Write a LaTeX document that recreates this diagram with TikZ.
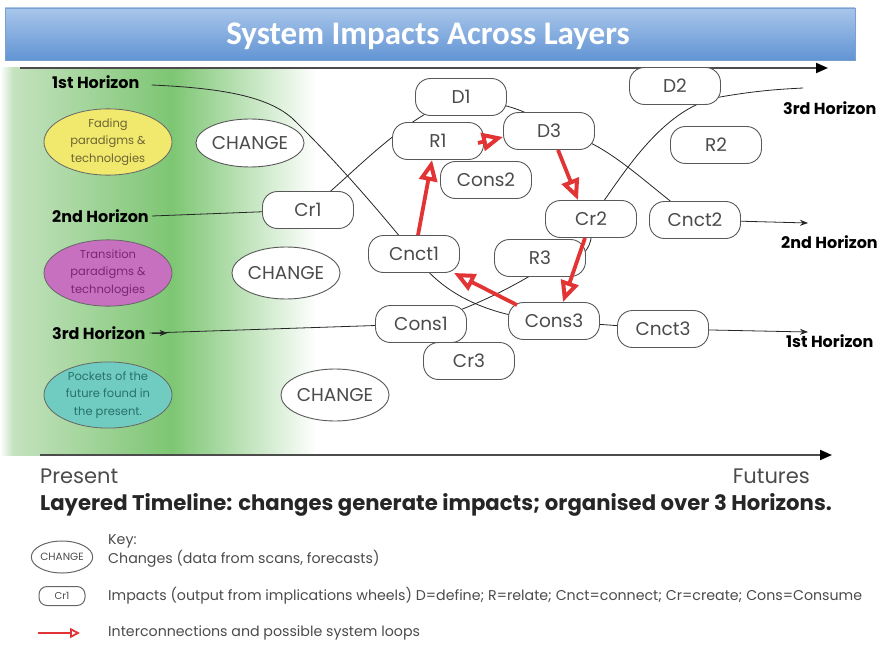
\documentclass[tikz,border=0pt]{standalone}
\usepackage{fontspec}
\setmainfont{Poppins}
\newfontfamily\titlefont{Carlito}
\usetikzlibrary{arrows.meta,shapes.geometric}
\definecolor{grnA}{RGB}{196,226,190}
\definecolor{grnB}{RGB}{125,198,115}
\definecolor{tbTop}{RGB}{168,198,234}
\definecolor{tbBot}{RGB}{98,148,212}
\definecolor{tbEdge}{RGB}{120,160,210}
\definecolor{redarr}{RGB}{226,52,52}
\definecolor{ylw}{RGB}{240,233,110}
\definecolor{mag}{RGB}{200,112,192}
\definecolor{tea}{RGB}{112,204,192}
\definecolor{txtg}{RGB}{75,75,75}
\pgfdeclarehorizontalshading{greenfade}{100bp}{color(0bp)=(white); color(25bp)=(white); color(27bp)=(grnA); color(51bp)=(grnB); color(73bp)=(white); color(75bp)=(white); color(100bp)=(white)}
\begin{document}
\begin{tikzpicture}[x=1pt,y=-1pt,
  box/.style={draw=black!65, fill=white, rounded corners=15pt, minimum width=91pt, minimum height=37pt, inner sep=0pt, font=\fontsize{18.5}{20}\selectfont, text=txtg, line width=0.9pt},
  chg/.style={ellipse, draw=black!65, fill=white, minimum width=100pt, minimum height=48pt, inner sep=0pt, font=\fontsize{18.5}{20}\selectfont, text=txtg, line width=0.9pt},
  para/.style={ellipse, draw=black!60, minimum width=128pt, minimum height=60pt, inner sep=0pt, align=center, font=\fontsize{11.5}{17.5}\selectfont, line width=0.8pt},
  hz/.style={font=\bfseries\fontsize{16}{18}\selectfont, inner sep=0pt},
  hline/.style={draw=black!85, line width=0.8pt},
  rarr/.style={draw=redarr, line width=3.8pt, -{Triangle[open, length=21pt, width=18pt, line width=4pt]}},
  axis/.style={draw=black!70, line width=2pt, -{Triangle[length=12pt, width=10pt, black]}},
  keytxt/.style={anchor=west, inner sep=0pt, text=txtg, font=\fontsize{14.2}{16}\selectfont}
]
\useasboundingbox (0,0) rectangle (882,647);
% green band
\shade[shading=greenfade] (0,68) rectangle (330,455);
% title bar
\shade[top color=tbTop, bottom color=tbBot, draw=tbEdge] (5,8) rectangle (855,60);
\node[text=white, font=\titlefont\bfseries\fontsize{33}{36}\selectfont, inner sep=0pt] (title) at (428,36) {System Impacts Across Layers};
% axes
\coordinate (axTs) at (20,68);
\coordinate (axTe) at (828,68);
\coordinate (axBs) at (40,455);
\coordinate (axBe) at (832,455);
\draw[axis] (axTs) -- (axTe);
\draw[axis] (axBs) -- (axBe);

% horizon labels left
\node[hz, anchor=west] (h1) at (52,82) {1st Horizon};
\node[hz, anchor=west] (h2) at (52,216) {2nd Horizon};
\node[hz, anchor=west] (h3) at (52,333) {3rd Horizon};
% horizon labels right
\node[hz, anchor=west] (h3R) at (783,108) {3rd Horizon};
\node[hz, anchor=west] (h2R) at (781,242) {2nd Horizon};
\node[hz, anchor=west] (h1R) at (786,341) {1st Horizon};

% paradigm ellipses
\node[para, fill=ylw, text={rgb,255:red,110;green,100;blue,50}] (fade) at (108,142) {Fading\\paradigms \&\\technologies};
\node[para, fill=mag, text={rgb,255:red,120;green,40;blue,112}, minimum height=62pt] (trans) at (108,273) {Transition\\paradigms \&\\technologies};
\node[para, fill=tea, text={rgb,255:red,40;green,112;blue,104}, minimum height=62pt] (pock) at (108,395) {Pockets of the\\future found in\\the present.};

% change ellipses
\node[chg] (c1) at (250,143) {CHANGE};
\node[chg, minimum width=106pt, minimum height=52pt] (c2) at (286,273) {CHANGE};
\node[chg, minimum width=106pt, minimum height=52pt] (c3) at (335,395) {CHANGE};

% coordinates for line ends
\coordinate (e3) at (803,88);
\coordinate (e2) at (808,223);
\coordinate (e1) at (808,332);

% box positions
\path
  (308,210) coordinate (pcr1)
  (461,97) coordinate (pd1)
  (438,141) coordinate (pr1)
  (549,131) coordinate (pd3)
  (486,180) coordinate (pcons2)
  (675,86) coordinate (pd2)
  (716,145) coordinate (pr2)
  (591,219) coordinate (pcr2)
  (695,220) coordinate (pcnct2)
  (414,254) coordinate (pcnct1)
  (540,258) coordinate (pr3)
  (421,324) coordinate (pcons1)
  (554,321) coordinate (pcons3)
  (469,361) coordinate (pcr3)
  (663,329) coordinate (pcnct3);

% horizon curves (behind boxes)
% 1st horizon
\draw[hline] ([xshift=12pt,yshift=-3pt]h1.east) .. controls (220,88) and (268,96) .. (293,119)
  .. controls (330,155) and (372,202) .. (pcnct1)
  .. controls (445,300) and (500,318) .. (pcons3) -- (pcnct3);
\draw[hline, -{Stealth[length=8pt,width=6pt]}] (pcnct3) -- (e1);
% 2nd horizon
\draw[hline] ([xshift=3pt]h2.east) -- (pcr1) .. controls (350,178) and (400,118) .. (pd1)
  .. controls (500,103) and (535,110) .. (pd3) .. controls (600,134) and (640,180) .. (pcnct2);
\draw[hline, -{Stealth[length=8pt,width=6pt]}] (pcnct2) -- (e2);
% 3rd horizon
\draw[hline] ([xshift=4pt]h3.east) -- (pcons1) .. controls (480,305) and (515,285) .. (540,270)
  .. controls (578,262) and (596,255) .. (pcr2) .. controls (620,180) and (660,108) .. (720,97)
  .. controls (760,90) and (785,89) .. (e3);
\draw[hline, -{Stealth[length=8pt,width=6pt]}] ([xshift=6pt]h3.east) -- ([xshift=22pt]h3.east);

% boxes
\node[box] (cr1) at (pcr1) {Cr1};
\node[box] (d1) at (pd1) {D1};
\node[box] (cons2) at (pcons2) {Cons2};
\node[box] (r1) at (pr1) {R1};
\node[box] (d3) at (pd3) {D3};
\node[box] (d2) at (pd2) {D2};
\node[box] (r2) at (pr2) {R2};
\node[box] (cr2) at (pcr2) {Cr2};
\node[box] (cnct2) at (pcnct2) {Cnct2};
\node[box] (cnct1) at (pcnct1) {Cnct1};
\node[box] (r3) at (pr3) {R3};
\node[box] (cons1) at (pcons1) {Cons1};
\node[box] (cr3) at (pcr3) {Cr3};
\node[box] (cons3) at (pcons3) {Cons3};
\node[box] (cnct3) at (pcnct3) {Cnct3};

% red interconnections
\draw[rarr] ([xshift=4pt]cnct1.north) -- ([xshift=-6pt]r1.south);
\draw[rarr] ([xshift=-6pt,yshift=-2pt]r1.east) -- ([yshift=-6pt]d3.west);
\draw[rarr] ([xshift=9pt]d3.south) -- ([xshift=-13pt]cr2.north);
\draw[rarr] ([xshift=-6pt]cr2.south) -- ([xshift=9pt]cons3.north);
\draw[rarr] ([xshift=9pt,yshift=-3pt]cons3.north west) -- ([xshift=-6pt]cnct1.south east);

% bottom labels
\node[anchor=west, inner sep=0pt, text=txtg, font=\fontsize{21}{23}\selectfont] (present) at (40,476) {Present};
\node[anchor=east, inner sep=0pt, text=txtg, font=\fontsize{21}{23}\selectfont] (futures) at (810,476) {Futures};
\node[anchor=west, inner sep=0pt, text=black!85, font=\bfseries\fontsize{21.2}{23}\selectfont] (caption) at (40,505) {Layered Timeline: changes generate impacts; organised over 3 Horizons.};

% key
\node[keytxt] (keyh) at (108,541) {Key:};
\node[ellipse, draw=black!60, line width=1pt, minimum width=50pt, minimum height=32pt, inner sep=0pt, text=txtg, font=\fontsize{10.5}{11}\selectfont] (kchg) at (62,557) {CHANGE};
\node[keytxt] (k1) at (108,559) {Changes (data from scans, forecasts)};
\node[draw=black!60, line width=1pt, rounded corners=8pt, minimum width=46pt, minimum height=19pt, inner sep=0pt, text=txtg, font=\fontsize{10}{11}\selectfont] (kbox) at (62,596) {Cr1};
\node[keytxt] (k2) at (108,596) {Impacts (output from implications wheels) D=define; R=relate; Cnct=connect; Cr=create; Cons=Consume};
\coordinate (kas) at (38,633);
\coordinate (kae) at (80,633);
\draw[draw=redarr, line width=2pt, -{Triangle[open, length=10pt, width=10pt, line width=1.8pt]}] (kas) -- (kae);
\node[keytxt] (k3) at (108,633) {Interconnections and possible system loops};
\end{tikzpicture}
\end{document}
